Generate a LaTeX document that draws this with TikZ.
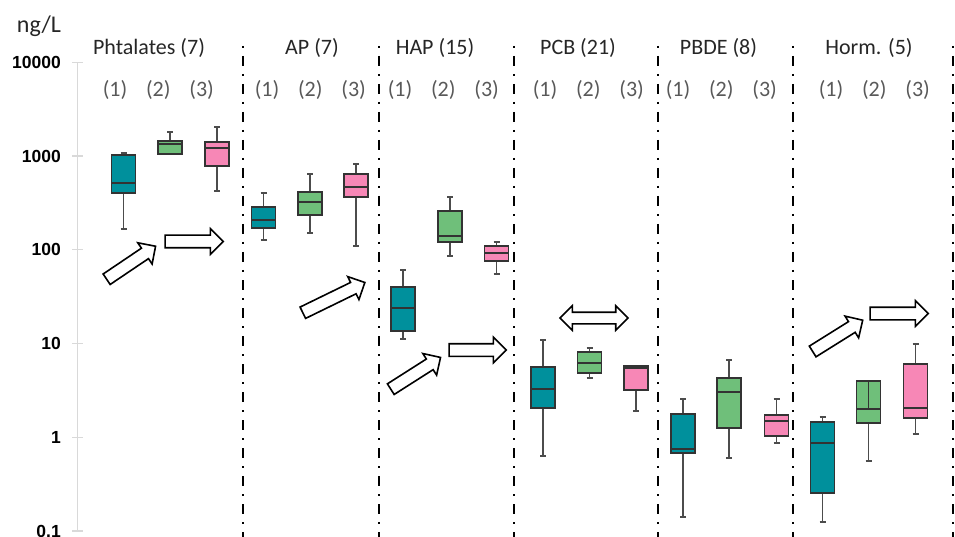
\documentclass[tikz,border=0pt]{standalone}
\usepackage{fontspec}
\setmainfont{Carlito}
\newfontfamily\axisfont{Liberation Sans}
\usetikzlibrary{shapes.arrows}
\definecolor{tealbox}{HTML}{00909C}
\definecolor{greenbox}{HTML}{6FBF7A}
\definecolor{pinkbox}{HTML}{F787B6}
\definecolor{axisgray}{HTML}{D9D9D9}
\tikzset{
    group-title/.style = {font=\fontsize{22}{24}\selectfont, text=black!85, anchor=base},
    sample/.style = {font=\fontsize{22}{24}\selectfont, text=black!65, anchor=base},
    axis-label/.style = {font=\axisfont\bfseries\fontsize{17.5}{20}\selectfont, anchor=east, inner sep=0pt},
    separator/.style = {line width=2.2pt, dash pattern=on 2pt off 8pt on 10pt off 8pt},
    trend/.style = {single arrow, draw, fill=white, line width=1.6pt, inner xsep=0pt, inner ysep=5.5pt, single arrow head extend=6.5pt},
    both-ways/.style = {double arrow, draw, fill=white, line width=1.6pt, inner xsep=0pt, inner ysep=5pt, double arrow head extend=6.5pt},
    whisker/.style = {draw=black!70, line width=1.9pt},
    box-outline/.style = {draw=black!80, line width=1.7pt},
}

% x, whisker top, box top, median, box bottom, whisker bottom, fill
\newcommand{\bplot}[7]{
    \draw[whisker] (#1,#2) -- (#1,#6);
    \draw[whisker] (#1-3,#2) -- (#1+3,#2) (#1-3,#6) -- (#1+3,#6);
    \filldraw[box-outline, fill=#7] (#1-12,#3) rectangle (#1+12,#5);
    \draw[box-outline] (#1-12,#4) -- (#1+12,#4);
}

\begin{document}
\begin{tikzpicture}[x=1pt, y=-1pt]
\useasboundingbox (0,0) rectangle (955,537);

% log axis
\node[font=\fontsize{24}{26}\selectfont, text=black!85, anchor=base] (unit) at (39,33) {ng/L};
\draw[axisgray, line width=1.8pt] (77.5,62.3) -- (77.5,531);
\foreach \v/\lab in {0/10000,1/1000,2/100,3/10,4/1,5/0.1} {
    \draw[axisgray, line width=1.4pt] (72,{62.3+93.74*\v}) -- (83,{62.3+93.74*\v});
    \node[axis-label] (ylab-\v) at (61,{62.3+93.74*\v}) {\lab};
}

% group separators
\foreach \sx in {243,379,514,658,793,953}
    \draw[separator] (\sx,46) -- (\sx,537);

\node[group-title] (phtalates) at (149,55) {Phtalates (7)};
\node[group-title] (ap) at (312,55) {AP (7)};
\node[group-title] (hap) at (435,55) {HAP (15)};
\node[group-title] (pcb) at (578,55) {PCB (21)};
\node[group-title] (pbde) at (718.5,55) {PBDE (8)};
\node[group-title] (horm) at (869,55) {Horm. (5)};

\foreach \gx [count=\g] in {115,267,400,545,678,831}
    \foreach \k in {1,2,3}
        \node[sample] (s\g-\k) at ({\gx+43.3*(\k-1)},97) {(\k)};

% Phtalates
\bplot{123.5}{153}{155}{183}{193}{229}{tealbox}
\bplot{170}{132}{141}{144}{154}{154}{greenbox}
\bplot{217}{127}{142}{148}{166}{191}{pinkbox}
% AP
\bplot{263.5}{193}{207}{220}{228}{240}{tealbox}
\bplot{310}{174}{192}{202}{215}{233}{greenbox}
\bplot{356}{164}{174}{187}{197}{246}{pinkbox}
% HAP
\bplot{403}{270}{287}{308}{331}{339}{tealbox}
\bplot{450}{197}{211}{236}{242}{256}{greenbox}
\bplot{496.5}{242}{246}{253}{261}{274}{pinkbox}
% PCB
\bplot{543}{340}{367}{389}{408}{456}{tealbox}
\bplot{589.5}{348}{352}{363}{373}{378}{greenbox}
\bplot{636}{366}{366}{368}{390}{411}{pinkbox}
% PBDE
\bplot{683}{399}{414}{449}{453}{517}{tealbox}
\bplot{729}{360}{378}{392}{428}{458}{greenbox}
\bplot{776.5}{399}{415}{421}{436}{443}{pinkbox}
% Horm.
\bplot{822.5}{417}{422}{443}{493}{522}{tealbox}
\bplot{868.5}{381}{381}{409}{423}{461}{greenbox}
\draw[box-outline] (868.5,381) -- (868.5,409);
\bplot{915.5}{344}{364}{408}{418}{434}{pinkbox}

% trend arrows
\node[trend, minimum height=59pt, rotate=34] (ph-up) at (128.5,264.5) {};
\node[trend, minimum height=58pt] (ph-flat) at (191,241.5) {};
\node[trend, minimum height=69pt, rotate=26] (ap-up) at (331,299) {};
\node[trend, minimum height=59pt, rotate=32.5] (hap-up) at (413,375) {};
\node[trend, minimum height=57pt] (hap-flat) at (474.5,350) {};
\node[both-ways, minimum height=68pt] (pcb-same) at (594,318) {};
\node[trend, minimum height=59pt, rotate=32] (horm-up) at (835,337.5) {};
\node[trend, minimum height=58pt] (horm-flat) at (896,313.5) {};
\end{tikzpicture}
\end{document}
